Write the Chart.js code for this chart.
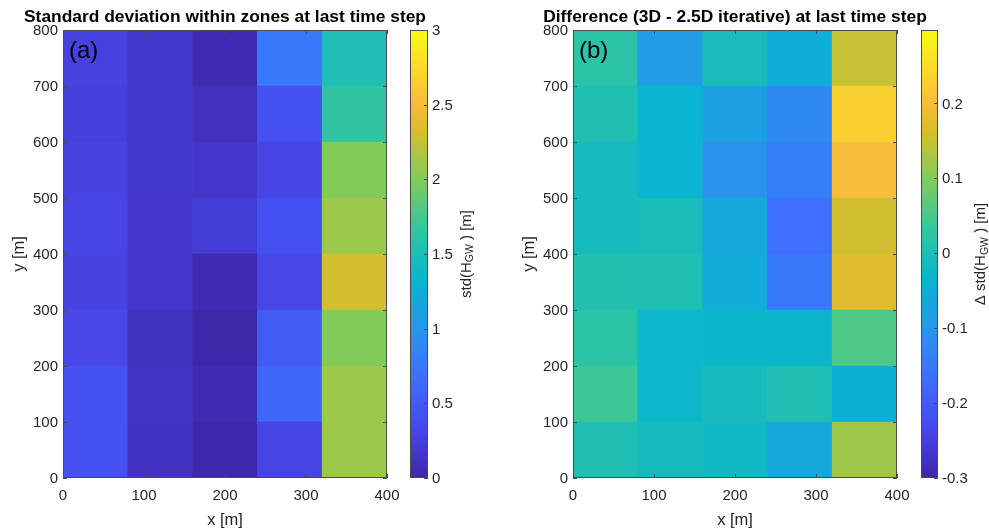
<!DOCTYPE html>
<html>
<head>
<meta charset="utf-8">
<script src="https://cdn.jsdelivr.net/npm/chart.js@4"></script>
<style>
  body { margin: 0; background: #fff; }
  .box { position: absolute; top: 0; height: 529px; }
</style>
</head>
<body>
<div class="box" style="left:0;width:440px"><canvas id="mapA"></canvas></div>
<div class="box" style="left:400px;width:90px"><canvas id="barA"></canvas></div>
<div class="box" style="left:510px;width:440px"><canvas id="mapB"></canvas></div>
<div class="box" style="left:910px;width:79px"><canvas id="barB"></canvas></div>
<script>
// zone grid
const xCenters = [40, 120, 200, 280, 360];
const yEdges = [0, 100, 200, 300, 400, 500, 600, 700, 800];
const xTicks = [0, 100, 200, 300, 400];
const yTicks = [0, 100, 200, 300, 400, 500, 600, 700, 800];

// std(H_GW) per zone, rows from y=0-100 up to y=700-800
const stdRows = [
  [0.42, 0.13, 0.01, 0.30, 2.10],
  [0.42, 0.15, 0.05, 0.58, 2.10],
  [0.33, 0.12, 0.00, 0.50, 2.00],
  [0.29, 0.17, 0.05, 0.32, 2.30],
  [0.30, 0.17, 0.23, 0.41, 2.10],
  [0.29, 0.18, 0.17, 0.30, 2.00],
  [0.26, 0.19, 0.11, 0.42, 1.65],
  [0.28, 0.18, 0.05, 0.74, 1.52],
];
// difference 3D - 2.5D iterative, same layout
const diffRows = [
  [0.005, -0.009, -0.019, -0.062, 0.120],
  [0.042, -0.026, -0.010, 0.005, -0.047],
  [0.023, -0.026, -0.029, -0.029, 0.056],
  [0.009, 0.005, -0.054, -0.153, 0.170],
  [-0.012, -0.005, -0.060, -0.167, 0.156],
  [-0.011, -0.033, -0.107, -0.138, 0.202],
  [0.006, -0.036, -0.079, -0.121, 0.232],
  [0.023, -0.088, -0.006, -0.049, 0.149],
];
const stdRange = [0, 3];
const diffRange = [-0.3, 0.298];
const stdTicks = [0, 0.5, 1, 1.5, 2, 2.5, 3];
const diffTicks = [-0.3, -0.2, -0.1, 0, 0.1, 0.2];

// parula colormap
const parulaStops = [0, 1/9, 2/9, 3/9, 4/9, 5/9, 6/9, 7/9, 0.8333, 8/9, 1];
const parulaRGB = [[62,38,168],[71,71,235],[62,111,255],[39,150,235],[8,181,208],[49,198,159],[129,204,89],[220,189,41],[250,186,61],[252,207,48],[249,251,21]];

const family = "'Liberation Sans', Arial, Helvetica, sans-serif";
const axisColor = "#262626";
Chart.defaults.font.family = family;
Chart.defaults.color = axisColor;

function parula(t) {
  t = Math.min(1, Math.max(0, t));
  let i = 1;
  while (i < parulaStops.length - 1 && t > parulaStops[i]) i++;
  const f = (t - parulaStops[i - 1]) / (parulaStops[i] - parulaStops[i - 1]);
  const a = parulaRGB[i - 1], b = parulaRGB[i];
  const c = a.map((v, k) => Math.round(v + (b[k] - v) * f));
  return `rgb(${c[0]},${c[1]},${c[2]})`;
}

// no extra room for the end labels, the layout padding handles it
function noOverflow(s) {
  s.paddingLeft = 0;
  s.paddingRight = 0;
  s.paddingTop = 0;
  s.paddingBottom = 0;
}

// box + inward ticks, drawn on top of the cells
const frame = {
  id: "frame",
  afterDatasetsDraw(chart, args, opts) {
    const { ctx, chartArea: a } = chart;
    const len = 4;
    ctx.save();
    ctx.strokeStyle = opts.color;
    ctx.lineWidth = 1;
    ctx.strokeRect(a.left + 0.5, a.top + 0.5, a.width - 1, a.height - 1);
    ctx.beginPath();
    const xs = chart.scales.x;
    if (opts.xTicks && xs) {
      xs.ticks.forEach((t) => {
        const p = Math.round(xs.getPixelForValue(t.value)) + 0.5;
        ctx.moveTo(p, a.bottom); ctx.lineTo(p, a.bottom - len);
        ctx.moveTo(p, a.top); ctx.lineTo(p, a.top + len);
      });
    }
    const ys = chart.scales.y;
    ys.ticks.forEach((t) => {
      const p = Math.round(ys.getPixelForValue(t.value)) + 0.5;
      if (opts.leftTicks) { ctx.moveTo(a.left, p); ctx.lineTo(a.left + len, p); }
      ctx.moveTo(a.right, p); ctx.lineTo(a.right - len, p);
    });
    ctx.stroke();
    ctx.restore();
  },
};

// title and panel letter of a map
function mapText(title, letter) {
  return {
    id: "mapText",
    afterDraw(chart) {
      const { ctx, chartArea: a } = chart;
      ctx.save();
      ctx.fillStyle = "#000";
      ctx.textBaseline = "middle";
      ctx.textAlign = "center";
      ctx.font = `bold 17.4px ${family}`;
      ctx.fillText(title, (a.left + a.right) / 2, 17);
      ctx.textAlign = "left";
      ctx.font = `24px ${family}`;
      ctx.fillText(letter, a.left + 6, a.top + 21);
      ctx.restore();
    },
  };
}

// rotated colorbar label with subscript
function cbLabel(parts, offset) {
  return {
    id: "cbLabel",
    afterDraw(chart) {
      const { ctx, chartArea: a } = chart;
      ctx.save();
      ctx.fillStyle = axisColor;
      ctx.textBaseline = "middle";
      ctx.textAlign = "left";
      const widths = parts.map((p) => {
        ctx.font = `${p.size}px ${family}`;
        return ctx.measureText(p.text).width;
      });
      const total = widths.reduce((s, w) => s + w, 0);
      ctx.translate(a.right + offset, (a.top + a.bottom) / 2);
      ctx.rotate(-Math.PI / 2);
      let x = -total / 2;
      parts.forEach((p, i) => {
        ctx.font = `${p.size}px ${family}`;
        ctx.fillText(p.text, x, p.shift || 0);
        x += widths[i];
      });
      ctx.restore();
    },
  };
}

function makeMap(id, rows, range, title, letter) {
  const [lo, hi] = range;
  return new Chart(document.getElementById(id), {
    type: "bar",
    data: {
      datasets: rows.map((row, r) => ({
        data: row.map((v, c) => ({ x: xCenters[c], y: [yEdges[r], yEdges[r + 1]] })),
        backgroundColor: row.map((v) => parula((v - lo) / (hi - lo))),
        borderWidth: 0,
        grouped: false,
        barPercentage: 1,
        categoryPercentage: 1,
      })),
    },
    options: {
      responsive: true,
      maintainAspectRatio: false,
      animation: false,
      events: [],
      layout: { padding: { top: 30, right: 53, left: 0, bottom: 0 } },
      plugins: {
        legend: { display: false },
        tooltip: { enabled: false },
        frame: { color: "#4a4a4a", xTicks: true, leftTicks: true },
      },
      scales: {
        x: {
          type: "linear", min: 0, max: 400, offset: false,
          grid: { display: false, drawTicks: false, offset: false },
          border: { display: false },
          afterBuildTicks: (s) => { s.ticks = xTicks.map((v) => ({ value: v })); },
          ticks: { padding: 9, maxRotation: 0, font: { size: 15 }, callback: (v) => String(v) },
          title: { display: true, text: "x [m]", font: { size: 16.5 }, padding: { top: 0, bottom: -1 } },
          afterFit: (s) => { s.height = 51; noOverflow(s); },
        },
        y: {
          type: "linear", min: 0, max: 800,
          grid: { display: false, drawTicks: false },
          border: { display: false },
          afterBuildTicks: (s) => { s.ticks = yTicks.map((v) => ({ value: v })); },
          ticks: { padding: 5, labelOffset: 1, font: { size: 15 }, callback: (v) => String(v) },
          title: { display: true, text: "y [m]", font: { size: 16.5 }, padding: { top: 10, bottom: 0 } },
          afterFit: (s) => { s.width = 63; noOverflow(s); },
        },
      },
    },
    plugins: [frame, mapText(title, letter)],
  });
}

function makeBar(id, range, ticks, padLeft, axisWidth, labelParts, labelOffset) {
  const [lo, hi] = range;
  return new Chart(document.getElementById(id), {
    type: "bar",
    data: {
      labels: [""],
      datasets: [{
        data: [[lo, hi]],
        borderWidth: 0,
        barPercentage: 1,
        categoryPercentage: 1,
        backgroundColor: (c) => {
          const a = c.chart.chartArea;
          if (!a || !Number.isFinite(a.top) || !Number.isFinite(a.bottom)) return parula(0.5);
          const g = c.chart.ctx.createLinearGradient(0, a.bottom, 0, a.top);
          parulaStops.forEach((t) => g.addColorStop(t, parula(t)));
          return g;
        },
      }],
    },
    options: {
      responsive: true,
      maintainAspectRatio: false,
      animation: false,
      events: [],
      layout: { padding: { top: 30, bottom: 51, left: padLeft, right: 0 } },
      plugins: {
        legend: { display: false },
        tooltip: { enabled: false },
        frame: { color: "#4a4a4a", xTicks: false, leftTicks: false },
      },
      scales: {
        x: { display: false },
        y: {
          position: "right", min: lo, max: hi,
          grid: { display: false, drawTicks: false },
          border: { display: false },
          afterBuildTicks: (s) => { s.ticks = ticks.map((v) => ({ value: v })); },
          ticks: { padding: 4, labelOffset: 1, font: { size: 15 }, callback: (v) => String(v) },
          afterFit: (s) => { s.width = axisWidth; noOverflow(s); },
        },
      },
    },
    plugins: [frame, cbLabel(labelParts, labelOffset)],
  });
}

makeMap("mapA", stdRows, stdRange, "Standard deviation within zones at last time step", "(a)");
makeBar("barA", stdRange, stdTicks, 10, 62, [
  { text: "std(H", size: 15 },
  { text: "GW", size: 10.5, shift: 4 },
  { text: " ) [m]", size: 15 },
], 38.5);
makeMap("mapB", diffRows, diffRange, "Difference (3D - 2.5D iterative) at last time step", "(b)");
makeBar("barB", diffRange, diffTicks, 11, 51, [
  { text: "\u0394 std(H", size: 15 },
  { text: "GW", size: 10.5, shift: 4 },
  { text: " ) [m]", size: 15 },
], 43);
</script>
</body>
</html>
